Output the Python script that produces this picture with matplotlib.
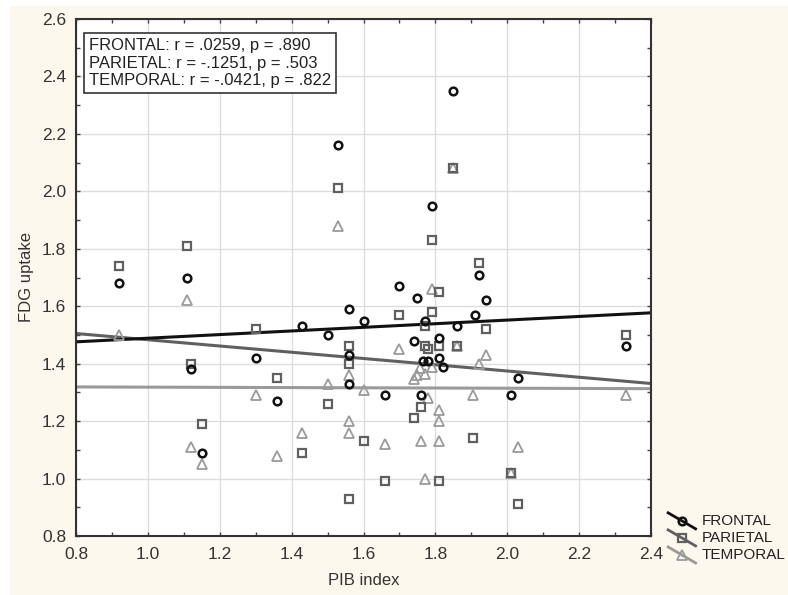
import numpy as np
import matplotlib
matplotlib.use("Agg")
import matplotlib.pyplot as plt
from matplotlib.lines import Line2D
from matplotlib.legend_handler import HandlerLine2D
from matplotlib.patches import Rectangle

plt.rcParams['font.family'] = ['Liberation Sans', 'DejaVu Sans']

# values
frontal_x = [0.92, 1.11, 1.12, 1.15, 1.30, 1.36, 1.43, 1.50, 1.53, 1.56, 1.56, 1.56,
             1.60, 1.66, 1.70, 1.74, 1.75, 1.76, 1.765, 1.78, 1.77, 1.79, 1.81, 1.81,
             1.82, 1.85, 1.86, 1.91, 1.92, 1.94, 2.01, 2.03, 2.33]
frontal_y = [1.68, 1.70, 1.38, 1.09, 1.42, 1.27, 1.53, 1.50, 2.16, 1.59, 1.43, 1.33,
             1.55, 1.29, 1.67, 1.48, 1.63, 1.29, 1.41, 1.41, 1.55, 1.95, 1.49, 1.42,
             1.39, 2.35, 1.53, 1.57, 1.71, 1.62, 1.29, 1.35, 1.46]

parietal_x = [0.92, 1.11, 1.12, 1.15, 1.30, 1.36, 1.43, 1.50, 1.53, 1.56, 1.56, 1.56,
              1.60, 1.66, 1.70, 1.74, 1.76, 1.77, 1.77, 1.78, 1.79, 1.79, 1.81, 1.81,
              1.81, 1.85, 1.86, 1.905, 1.92, 1.94, 2.01, 2.03, 2.33]
parietal_y = [1.74, 1.81, 1.40, 1.19, 1.52, 1.35, 1.09, 1.26, 2.01, 1.46, 1.40, 0.93,
              1.13, 0.99, 1.57, 1.21, 1.25, 1.46, 1.53, 1.45, 1.58, 1.83, 1.46, 1.65,
              0.99, 2.08, 1.46, 1.14, 1.75, 1.52, 1.02, 0.91, 1.50]

temporal_x = [0.92, 1.11, 1.12, 1.15, 1.30, 1.36, 1.43, 1.50, 1.53, 1.56, 1.56, 1.56,
              1.60, 1.66, 1.70, 1.74, 1.75, 1.757, 1.76, 1.77, 1.77, 1.78, 1.79, 1.79,
              1.81, 1.81, 1.81, 1.85, 1.86, 1.905, 1.92, 1.94, 2.01, 2.03, 2.33]
temporal_y = [1.50, 1.62, 1.11, 1.05, 1.29, 1.08, 1.16, 1.33, 1.88, 1.36, 1.20, 1.16,
              1.31, 1.12, 1.45, 1.345, 1.36, 1.385, 1.13, 1.365, 1.00, 1.28, 1.39, 1.66,
              1.24, 1.20, 1.13, 2.08, 1.46, 1.29, 1.40, 1.43, 1.02, 1.11, 1.29]

# fitted lines, end values at x = 0.8 and 2.4
fit_x = [0.8, 2.4]
frontal_fit = [1.476, 1.577]
parietal_fit = [1.505, 1.331]
temporal_fit = [1.319, 1.313]

stats_text = ["FRONTAL: r = .0259, p = .890",
              "PARIETAL: r = -.1251, p = .503",
              "TEMPORAL: r = -.0421, p = .822"]
labels = ["FRONTAL", "PARIETAL", "TEMPORAL"]


class SlantHandler(HandlerLine2D):
    # statistica style legend key: a slanted line with the marker in the middle
    def create_artists(self, legend, orig_handle, xdescent, ydescent,
                       width, height, fontsize, trans):
        xs = np.array([0, width]) - xdescent
        ys = np.array([height * 1.15, -height * 0.35]) - ydescent
        line = Line2D(xs, ys)
        self.update_prop(line, orig_handle, legend)
        line.set_marker('None')
        line.set_linestyle('-')
        mark = Line2D([xs.mean()], [ys.mean()])
        self.update_prop(mark, orig_handle, legend)
        mark.set_linestyle('None')
        line.set_transform(trans)
        mark.set_transform(trans)
        return [line, mark]


fig = plt.figure(figsize=(7.88, 5.95), dpi=100, facecolor='white')
fig.patches.append(Rectangle((10 / 788, 0), 1, 1 - 6 / 595, transform=fig.transFigure,
                             facecolor='#fcf8ee', edgecolor='none', zorder=-10))
ax = fig.add_axes([76 / 788, 1 - 536 / 595, 575 / 788, 517 / 595])
ax.set_facecolor('white')

ax.plot(fit_x, temporal_fit, color='#9a9a9a', lw=2.2, zorder=2)
ax.plot(fit_x, parietal_fit, color='#606060', lw=2.2, zorder=2)
ax.plot(fit_x, frontal_fit, color='#111111', lw=2.2, zorder=2)

ax.plot(temporal_x, temporal_y, ls='none', marker='^', ms=6.5, mfc='none',
        mec='#9a9a9a', mew=1.3, zorder=3)
ax.plot(parietal_x, parietal_y, ls='none', marker='s', ms=6, mfc='none',
        mec='#606060', mew=1.6, zorder=4)
ax.plot(frontal_x, frontal_y, ls='none', marker='o', ms=5.5, mfc='none',
        mec='#111111', mew=1.8, zorder=5)

ax.set_xlim(0.8, 2.4)
ax.set_ylim(0.8, 2.6)
ax.set_xticks(np.arange(0.8, 2.41, 0.2))
ax.set_yticks(np.arange(0.8, 2.61, 0.2))
ax.set_xticks(np.arange(0.9, 2.4, 0.2), minor=True)
ax.set_yticks(np.arange(0.9, 2.6, 0.2), minor=True)
ax.xaxis.set_major_formatter(plt.FormatStrFormatter('%.1f'))
ax.yaxis.set_major_formatter(plt.FormatStrFormatter('%.1f'))
ax.tick_params(which='both', direction='in', top=True, right=True, length=3,
               width=1, color='#444444', labelsize=12.5, labelcolor='#333333')
ax.tick_params(axis='x', pad=8)
ax.tick_params(axis='y', pad=7)
ax.grid(True, which='major', color='#dddddd', lw=1)
ax.set_axisbelow(True)
for sp in ax.spines.values():
    sp.set_color('#333333')
    sp.set_linewidth(1.5)

ax.set_xlabel("PIB index", fontsize=12, color='#333333', labelpad=8)
ax.set_ylabel("FDG uptake", fontsize=12, color='#333333', labelpad=6)

ax.text(0.022, 0.963, "\n".join(stats_text), transform=ax.transAxes, ha='left', va='top',
        fontsize=12, color='#222222', linespacing=1.2,
        bbox=dict(boxstyle='square,pad=0.3', fc='white', ec='#333333', lw=1.2))

handles = [
    Line2D([], [], color='#111111', lw=2, marker='o', ms=5.5, mfc='none', mec='#111111', mew=1.8),
    Line2D([], [], color='#606060', lw=2, marker='s', ms=6, mfc='none', mec='#606060', mew=1.6),
    Line2D([], [], color='#9a9a9a', lw=2, marker='^', ms=6.5, mfc='none', mec='#9a9a9a', mew=1.3),
]
fig.legend(handles, labels, loc='upper left', bbox_to_anchor=(662 / 788, 1 - 508 / 595),
           frameon=False, fontsize=11, handler_map={Line2D: SlantHandler()},
           handlelength=1.8, handletextpad=0.4, labelspacing=0.2, borderaxespad=0,
           labelcolor='#222222')

fig.savefig("out.png", dpi=100, facecolor=fig.get_facecolor())
